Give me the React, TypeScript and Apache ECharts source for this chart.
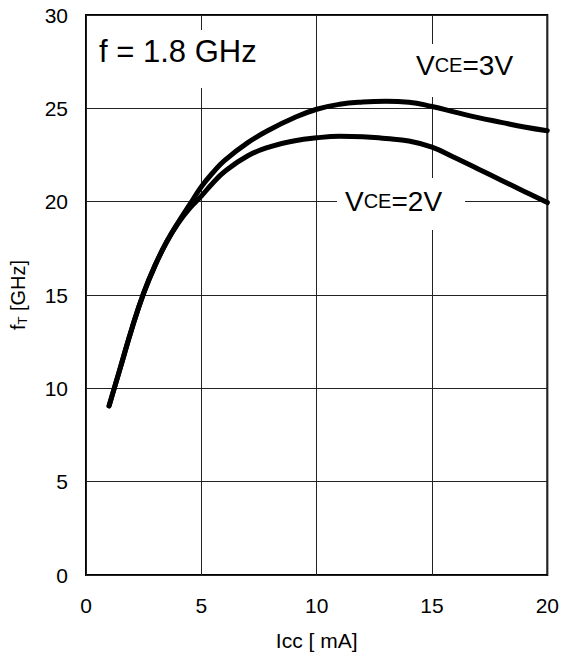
import React, { useEffect, useRef } from "react";
import * as echarts from "echarts";

const xTicks = [0, 5, 10, 15, 20];
const yTicks = [0, 5, 10, 15, 20, 25, 30];
const iccMA = [1, 1.5, 2, 2.5, 3, 3.5, 4, 4.5, 5, 5.5, 6, 7, 8, 9, 10, 11, 12, 13, 14, 15, 16, 17, 18, 19, 20];
const ftVce3 = [9.06, 11.15, 13.25, 15.1, 16.6, 17.85, 18.9, 19.85, 20.8, 21.55, 22.2, 23.15, 23.88, 24.48, 24.95, 25.22, 25.34, 25.38, 25.33, 25.1, 24.8, 24.5, 24.25, 24.0, 23.8];
const ftVce2 = [9.06, 11.15, 13.25, 15.1, 16.6, 17.85, 18.85, 19.65, 20.3, 21.0, 21.6, 22.45, 22.95, 23.25, 23.42, 23.5, 23.48, 23.38, 23.25, 22.92, 22.35, 21.75, 21.15, 20.55, 19.95];

const FONT = "Arial, 'Liberation Sans', sans-serif";

export default function App() {
  const ref = useRef<HTMLDivElement>(null);
  useEffect(() => {
    if (!ref.current) return;
    const chart = echarts.init(ref.current, null, { renderer: "svg" });
    const mk = (ys: number[]) => iccMA.map((x, i) => [x, ys[i]]);
    chart.setOption({
      animation: false,
      backgroundColor: "#fff",
      textStyle: { fontFamily: FONT },
      grid: {
        left: 85, right: 13, top: 15, bottom: 76,
        show: true, borderColor: "#000", borderWidth: 2, backgroundColor: "transparent",
      },
      xAxis: {
        type: "value", min: 0, max: 20, interval: 5,
        axisLine: { show: false }, axisTick: { show: false },
        splitLine: { show: true, lineStyle: { color: "#222", width: 1 } },
        axisLabel: { fontSize: 21, color: "#000", margin: 20, fontFamily: FONT,
          formatter: (v: number) => (xTicks.includes(v) ? String(v) : "") },
        name: "Icc [ mA]", nameLocation: "middle", nameGap: 55,
        nameTextStyle: { fontSize: 21, color: "#000", fontFamily: FONT },
      },
      yAxis: {
        type: "value", min: 0, max: 30, interval: 5,
        axisLine: { show: false }, axisTick: { show: false },
        splitLine: { show: true, lineStyle: { color: "#222", width: 1 } },
        axisLabel: { fontSize: 21, color: "#000", margin: 18, fontFamily: FONT,
          formatter: (v: number) => (yTicks.includes(v) ? String(v) : "") },
        name: "{a|f}{s|T}{a| [GHz]}", nameLocation: "middle", nameGap: 57, nameRotate: 90,
        nameTextStyle: {
          color: "#000", fontFamily: FONT,
          rich: {
            a: { fontSize: 20, color: "#000", fontFamily: FONT },
            s: { fontSize: 13, color: "#000", fontFamily: FONT, padding: [9, 0, 0, 0] },
          },
        },
      },
      series: [
        { type: "line", data: mk(ftVce3), smooth: 0.45, symbol: "none",
          lineStyle: { color: "#000", width: 5, cap: "round" } },
        { type: "line", data: mk(ftVce2), smooth: 0.45, symbol: "none",
          lineStyle: { color: "#000", width: 5, cap: "round" } },
      ],
      graphic: [
        { type: "rect", z: 10, shape: { x: 92, y: 30, width: 180, height: 58 }, style: { fill: "#fff" } },
        { type: "text", z: 11, x: 99, y: 51.5, style: { text: "f = 1.8 GHz", font: `31px ${FONT}`, fill: "#000", verticalAlign: "middle" } },
        { type: "rect", z: 10, shape: { x: 405, y: 44, width: 120, height: 53 }, style: { fill: "#fff" } },
        { type: "text", z: 11, x: 416, y: 65, style: {
          text: "{a|V}{b|CE}{a|=3V}", verticalAlign: "middle", fill: "#000",
          rich: { a: { fontSize: 28, fontFamily: FONT, fill: "#000" }, b: { fontSize: 20, fontFamily: FONT, fill: "#000" } } } },
        { type: "rect", z: 10, shape: { x: 337, y: 178, width: 128, height: 52 }, style: { fill: "#fff" } },
        { type: "text", z: 11, x: 345, y: 201, style: {
          text: "{a|V}{b|CE}{a|=2V}", verticalAlign: "middle", fill: "#000",
          rich: { a: { fontSize: 28, fontFamily: FONT, fill: "#000" }, b: { fontSize: 20, fontFamily: FONT, fill: "#000" } } } },
      ],
    });
    return () => chart.dispose();
  }, []);
  return <div ref={ref} style={{ width: 562, height: 656, position: "absolute", left: 0, top: 0 }} />;
}
